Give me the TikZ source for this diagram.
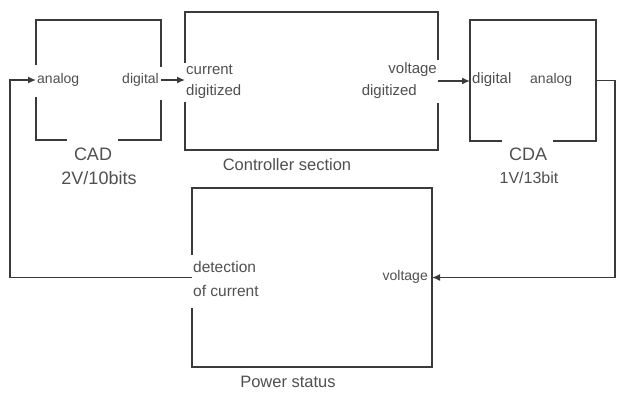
\documentclass[tikz,border=0pt]{standalone}
\usepackage{fontspec}
\setmainfont{Liberation Sans}
\usetikzlibrary{arrows.meta,calc}
\definecolor{linec}{HTML}{3A3A3A}
\definecolor{textc}{HTML}{505050}
\tikzset{
  blk/.style={draw=none, inner sep=0pt, outer sep=0pt},
  edge/.style={draw=linec, line width=1.5pt, line join=miter},
  arr/.style={draw=linec, line width=1.4pt, -{Latex[length=8pt,width=7pt]}},
  lbl/.style={text=textc, inner sep=0pt, font=\fontsize{14}{16}\selectfont},
  big/.style={text=textc, inner sep=0pt, font=\fontsize{18}{20}\selectfont},
  mid/.style={text=textc, inner sep=0pt, font=\fontsize{16.5}{18}\selectfont},
}
\begin{document}
\begin{tikzpicture}[x=1pt,y=-1pt]
\useasboundingbox[fill=white] (0,0) rectangle (617,394);
% block placeholders
\node[blk, minimum width=125pt, minimum height=120pt] (cad) at (98.5,80) {};
\node[blk, minimum width=253pt, minimum height=138pt] (ctl) at (311.5,81) {};
\node[blk, minimum width=126pt, minimum height=121pt] (cda) at (533,80.5) {};
\node[blk, minimum width=240pt, minimum height=179pt] (pow) at (312,277.5) {};
% CAD border with gaps
\draw[edge] (36,65) -- (cad.north west) -- (cad.north east) -- (161,67);
\draw[edge] (161,100) -- (cad.south east) -- (118,140);
\draw[edge] (67,140) -- (cad.south west) -- (36,97);
% controller border
\draw[edge] (185,63) -- (ctl.north west) -- (ctl.north east) -- (438,60);
\draw[edge] (438,103) -- (ctl.south east) -- (ctl.south west) -- (185,102);
% CDA border
\draw[edge] (553,141) -- (cda.south east) -- (cda.north east) -- (cda.north west) -- (cda.south west) -- (502,141);
% power border
\draw[edge] (192,255) -- (pow.north west) -- (pow.north east) -- (pow.south east) -- (pow.south west) -- (192,308);
% connectors
\coordinate (fl) at (10,0);
\coordinate (fr) at (615,0);
\draw[arr] (pow.west) -- (pow.west -| fl) |- (cad.west);
\draw[arr] (cad.east) -- (cad.east -| ctl.west);
\draw[arr] (ctl.east) -- (ctl.east -| cda.west);
\draw[arr] (cda.east) -- (cda.east -| fr) |- (pow.east);
% labels
\node[lbl, anchor=west] (t1) at (37,80) {analog};
\node[lbl, anchor=east] (t2) at (159,80) {digital};
\node[lbl, anchor=west, font=\fontsize{15}{17}\selectfont] (t3) at (186,70) {current};
\node[lbl, anchor=west, font=\fontsize{15}{17}\selectfont] (t4) at (186,92) {digitized};
\node[lbl, anchor=east, font=\fontsize{15}{17}\selectfont] (t5) at (437,70) {voltage};
\node[lbl, anchor=east, font=\fontsize{15}{17}\selectfont] (t6) at (417,92) {digitized};
\node[lbl, anchor=west, font=\fontsize{15}{17}\selectfont] (t7) at (472,80) {digital};
\node[lbl, anchor=west] (t8) at (530,80) {analog};
\node[big] (t9) at (93,154) {CAD};
\node[big] (t10) at (99,178) {2V/10bits};
\node[mid] (t11) at (287,165) {Controller section};
\node[big] (t12) at (528,154) {CDA};
\node[mid, font=\fontsize{16}{18}\selectfont] (t13) at (529,178) {1V/13bit};
\node[lbl, anchor=west, font=\fontsize{15.5}{17}\selectfont] (t14) at (193,267) {detection};
\node[lbl, anchor=west, font=\fontsize{15.5}{17}\selectfont] (t15) at (193,291) {of current};
\node[lbl, anchor=east] (t16) at (428,277) {voltage};
\node[mid] (t17) at (288,382) {Power status};
\end{tikzpicture}
\end{document}
